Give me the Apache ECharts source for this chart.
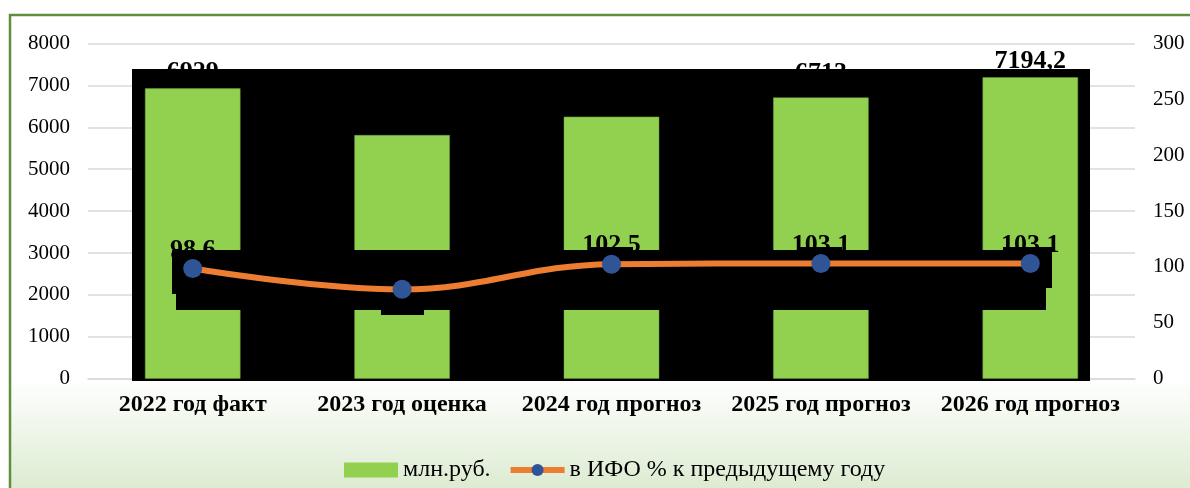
<!DOCTYPE html>
<html>
<head>
<meta charset="utf-8">
<script src="https://cdn.jsdelivr.net/npm/echarts@6/dist/echarts.min.js"></script>
<style>
html,body{margin:0;padding:0;background:#fff;}
#chart{width:1190px;height:488px;}
</style>
</head>
<body>
<div id="chart"></div>
<script>
const categories = ['2022 год факт', '2023 год оценка', '2024 год прогноз', '2025 год прогноз', '2026 год прогноз'];
const barValues = [6929, 5815, 6253, 6713, 7194.2];
const lineValues = [98.6, 80.0, 102.5, 103.1, 103.1];
const leftTicks = { min: 0, max: 8000, interval: 1000 };
const rightTicks = { min: 0, max: 300, interval: 50 };
const barName = 'млн.руб.';
const lineName = 'в ИФО % к предыдущему году';

const FONT = '"Liberation Serif", "Times New Roman", serif';
const chart = echarts.init(document.getElementById('chart'), null, { renderer: 'canvas' });

const band = [
  [172, 250, 880, 38], [172, 288, 874, 6], [176, 294, 870, 16],
  [381, 310, 43, 5], [590, 247, 43, 3], [800, 247, 42, 3], [1003, 247, 49, 3]
];

chart.setOption({
  backgroundColor: '#ffffff',
  animation: false,
  graphic: { elements: [
    { type: 'rect', z: -10, silent: true,
      shape: { x: 10, y: 15, width: 1200, height: 490 },
      style: { fill: new echarts.graphic.LinearGradient(0, 0, 0, 1, [
        { offset: 0, color: '#ffffff' }, { offset: 0.74, color: '#ffffff' }, { offset: 1, color: '#d6e8ca' }]),
        stroke: '#5f8f3e', lineWidth: 2.5 } },
    { type: 'rect', z: 2, silent: true,
      shape: { x: 132, y: 69, width: 958, height: 312 }, style: { fill: '#000' } }
  ].concat(band.map(b => ({ type: 'rect', z: 5, silent: true,
      shape: { x: b[0], y: b[1], width: b[2], height: b[3] }, style: { fill: '#000' } }))) },
  grid: { left: 88, right: 55, top: 43.5, bottom: 109.3, containLabel: false },
  legend: {
    data: [{ name: barName, icon: 'rect', itemStyle: { borderWidth: 0 } }, { name: lineName }],
    left: 339, top: 453,
    itemWidth: 54, itemHeight: 15, itemGap: 17,
    lineStyle: { width: 6 },
    textStyle: { fontFamily: FONT, fontSize: 24, color: '#000' }
  },
  xAxis: {
    type: 'category', data: categories,
    axisLine: { show: true, lineStyle: { color: '#d9d9d9', width: 1.5 } },
    axisTick: { show: false },
    axisLabel: { fontFamily: FONT, fontSize: 24, fontWeight: 'bold', color: '#000', margin: 14, interval: 0 }
  },
  yAxis: [
    { type: 'value', min: leftTicks.min, max: leftTicks.max, interval: leftTicks.interval,
      axisLine: { show: false }, axisTick: { show: false },
      splitLine: { lineStyle: { color: '#d9d9d9', width: 1.5 } },
      axisLabel: { fontFamily: FONT, fontSize: 21, color: '#000', margin: 18, formatter: v => String(v) } },
    { type: 'value', min: rightTicks.min, max: rightTicks.max, interval: rightTicks.interval,
      axisLine: { show: false }, axisTick: { show: false }, splitLine: { show: false },
      axisLabel: { fontFamily: FONT, fontSize: 21, color: '#000', margin: 18, formatter: v => String(v) } }
  ],
  series: [
    { name: 'barLabels', type: 'bar', z: 1, barWidth: '45.6%', barGap: '-100%',
      data: barValues.map((v, i) => i === 3 ? { value: v, label: { distance: 11 } } : v),
      itemStyle: { color: 'rgba(0,0,0,0)' }, silent: true,
      label: { show: true, position: 'top', distance: 3, fontFamily: FONT, fontSize: 26,
        fontWeight: 'bold', color: '#000', formatter: p => String(p.value).replace('.', ',') } },
    { name: barName, type: 'bar', data: barValues, z: 3, barWidth: '45.6%', barGap: '-100%',
      itemStyle: { color: '#92d050', borderColor: '#6f9e3c', borderWidth: 0.5 } },
    { name: 'lineLabels', type: 'line', data: lineValues, yAxisIndex: 1, z: 4,
      symbol: 'circle', symbolSize: 19, itemStyle: { color: 'rgba(0,0,0,0)' },
      lineStyle: { color: 'rgba(0,0,0,0)', width: 0 }, silent: true,
      label: { show: true, position: 'top', distance: -4, fontFamily: FONT, fontSize: 26,
        fontWeight: 'bold', color: '#000', formatter: p => String(p.value) } },
    { name: lineName, type: 'line', data: lineValues, yAxisIndex: 1, z: 6, smooth: 0.4,
      symbol: 'circle', symbolSize: 19,
      lineStyle: { color: '#ed7d31', width: 6 },
      itemStyle: { color: '#2f5597', borderWidth: 0 } }
  ]
});
</script>
</body>
</html>
